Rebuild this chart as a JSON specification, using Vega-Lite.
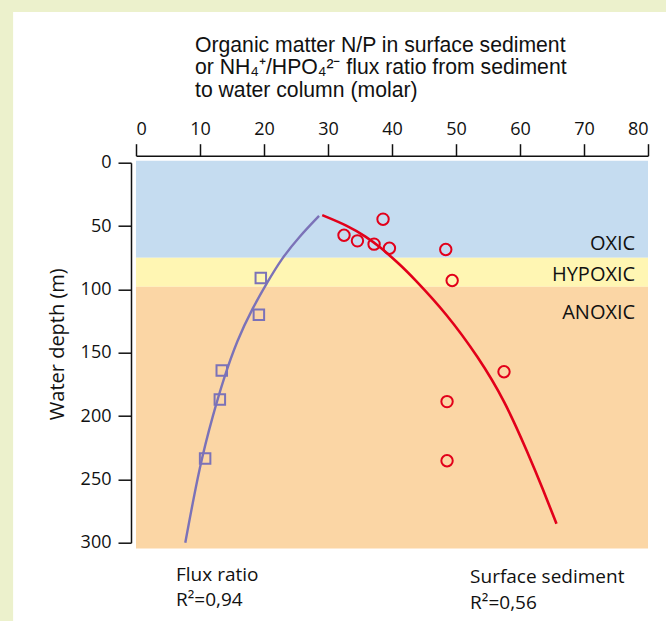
{
  "$schema": "https://vega.github.io/schema/vega-lite/v6.json",
  "width": 512,
  "height": 380,
  "autosize": {"type": "none"},
  "padding": {"left": 136, "top": 162.7, "right": 18, "bottom": 78.3},
  "background": "#ecf1cc",
  "title": {
    "text": ["Organic matter N/P in surface sediment", "or NH₄⁺/HPO₄²⁻ flux ratio from sediment", "to water column (molar)"],
    "anchor": "start",
    "frame": "group",
    "dx": 59,
    "dy": 89,
    "font": "Liberation Sans",
    "fontSize": 21.2,
    "fontWeight": "normal",
    "lineHeight": 22.5,
    "color": "#111",
    "offset": 0
  },
  "config": {
    "view": {"stroke": null},
    "axis": {
      "domainColor": "#111",
      "tickColor": "#111",
      "domainWidth": 1.5,
      "tickWidth": 1.5,
      "labelColor": "#111",
      "labelFont": "Open Sans",
      "labelFontSize": 18,
      "titleFont": "Open Sans",
      "titleFontSize": 20,
      "titleFontWeight": "normal",
      "titleColor": "#111",
      "grid": false
    }
  },
  "datasets": {
    "panel": [{"x": -19.2, "x2": 90, "y": -119, "y2": 400}],
    "zones": [
      {"zone": "OXIC", "x": 0, "x2": 80, "top": -1.6, "bottom": 75},
      {"zone": "HYPOXIC", "x": 0, "x2": 80, "top": 75, "bottom": 98},
      {"zone": "ANOXIC", "x": 0, "x2": 80, "top": 98, "bottom": 304.6}
    ],
    "zoneLabels": [
      {"label": "OXIC", "x": 78, "depth": 64.4},
      {"label": "HYPOXIC", "x": 78, "depth": 88.7},
      {"label": "ANOXIC", "x": 78, "depth": 118.7}
    ],
    "fluxFit": [
      {"ratio": 7.7, "depth": 300},
      {"ratio": 10.0, "depth": 237.6},
      {"ratio": 12.1, "depth": 198},
      {"ratio": 13.6, "depth": 172},
      {"ratio": 15.8, "depth": 140},
      {"ratio": 18.3, "depth": 114},
      {"ratio": 20.4, "depth": 95.4},
      {"ratio": 22.7, "depth": 76},
      {"ratio": 25.5, "depth": 58.4},
      {"ratio": 28.6, "depth": 42}
    ],
    "sedFit": [
      {"ratio": 29.1, "depth": 41.4},
      {"ratio": 33.0, "depth": 49.5},
      {"ratio": 36.0, "depth": 58.5},
      {"ratio": 38.1, "depth": 66.4},
      {"ratio": 41.25, "depth": 80.4},
      {"ratio": 43.3, "depth": 90.7},
      {"ratio": 48.5, "depth": 119},
      {"ratio": 53.5, "depth": 153.5},
      {"ratio": 57.6, "depth": 187.7},
      {"ratio": 61.3, "depth": 230},
      {"ratio": 63.6, "depth": 258},
      {"ratio": 65.7, "depth": 285}
    ],
    "flux": [
      {"ratio": 19.5, "depth": 91},
      {"ratio": 19.2, "depth": 120},
      {"ratio": 13.4, "depth": 164},
      {"ratio": 13.1, "depth": 187},
      {"ratio": 10.8, "depth": 233.6}
    ],
    "sediment": [
      {"ratio": 38.6, "depth": 44.6},
      {"ratio": 32.5, "depth": 57.3},
      {"ratio": 34.6, "depth": 61.7},
      {"ratio": 37.2, "depth": 64.3},
      {"ratio": 39.6, "depth": 67.5},
      {"ratio": 48.4, "depth": 68.5},
      {"ratio": 49.4, "depth": 93},
      {"ratio": 57.5, "depth": 165},
      {"ratio": 48.6, "depth": 188.6},
      {"ratio": 48.6, "depth": 235.3}
    ],
    "notes": [
      {"text": "Flux ratio", "x": 6.25, "depth": 325.5},
      {"text": "R²=0,94", "x": 6.25, "depth": 345.3},
      {"text": "Surface sediment", "x": 52.2, "depth": 326.8},
      {"text": "R²=0,56", "x": 52.2, "depth": 347.4}
    ]
  },
  "layer": [
    {
      "data": {"name": "panel"},
      "mark": {"type": "rect", "fill": "#ffffff"},
      "encoding": {
        "x": {"field": "x", "type": "quantitative", "scale": {"domain": [0, 80], "nice": false},
          "axis": {"orient": "top", "values": [0, 10, 20, 30, 40, 50, 60, 70, 80], "offset": 7, "tickSize": 12, "labelPadding": 5, "title": null, "zindex": 2}},
        "x2": {"field": "x2"},
        "y": {"field": "y", "type": "quantitative", "scale": {"domain": [0, 300], "nice": false, "reverse": true},
          "axis": {"orient": "left", "values": [0, 50, 100, 150, 200, 250, 300], "offset": 5, "tickSize": 13, "labelPadding": 7,
            "title": "Water depth (m)", "titleX": -74, "titleY": 181, "titleBaseline": "middle", "titleAngle": -90, "zindex": 2}},
        "y2": {"field": "y2"}
      }
    },
    {
      "data": {"name": "zones"},
      "mark": {"type": "rect"},
      "encoding": {
        "x": {"field": "x", "type": "quantitative"},
        "x2": {"field": "x2"},
        "y": {"field": "top", "type": "quantitative"},
        "y2": {"field": "bottom"},
        "fill": {"field": "zone", "type": "nominal", "legend": null,
          "scale": {"domain": ["OXIC", "HYPOXIC", "ANOXIC"], "range": ["#c5dcf0", "#fff6b3", "#fbd6a5"]}}
      }
    },
    {
      "data": {"name": "zoneLabels"},
      "mark": {"type": "text", "align": "right", "baseline": "middle", "font": "Open Sans", "fontSize": 20, "color": "#111"},
      "encoding": {
        "x": {"field": "x", "type": "quantitative"},
        "y": {"field": "depth", "type": "quantitative"},
        "text": {"field": "label"}
      }
    },
    {
      "data": {"name": "fluxFit"},
      "mark": {"type": "line", "color": "#7b72b8", "strokeWidth": 2.4, "interpolate": "basis"},
      "encoding": {
        "x": {"field": "ratio", "type": "quantitative"},
        "y": {"field": "depth", "type": "quantitative"}
      }
    },
    {
      "data": {"name": "sedFit"},
      "mark": {"type": "line", "color": "#e2001a", "strokeWidth": 2.6, "interpolate": "basis"},
      "encoding": {
        "x": {"field": "ratio", "type": "quantitative"},
        "y": {"field": "depth", "type": "quantitative"}
      }
    },
    {
      "data": {"name": "flux"},
      "mark": {"type": "point", "shape": "square", "filled": false, "color": "#7b72b8", "strokeWidth": 2, "size": 110, "opacity": 1},
      "encoding": {
        "x": {"field": "ratio", "type": "quantitative"},
        "y": {"field": "depth", "type": "quantitative"}
      }
    },
    {
      "data": {"name": "sediment"},
      "mark": {"type": "point", "shape": "circle", "filled": false, "color": "#e2001a", "strokeWidth": 2, "size": 130, "opacity": 1},
      "encoding": {
        "x": {"field": "ratio", "type": "quantitative"},
        "y": {"field": "depth", "type": "quantitative"}
      }
    },
    {
      "data": {"name": "notes"},
      "mark": {"type": "text", "align": "left", "baseline": "middle", "font": "Open Sans", "fontSize": 19, "color": "#111"},
      "encoding": {
        "x": {"field": "x", "type": "quantitative"},
        "y": {"field": "depth", "type": "quantitative"},
        "text": {"field": "text"}
      }
    }
  ]
}
